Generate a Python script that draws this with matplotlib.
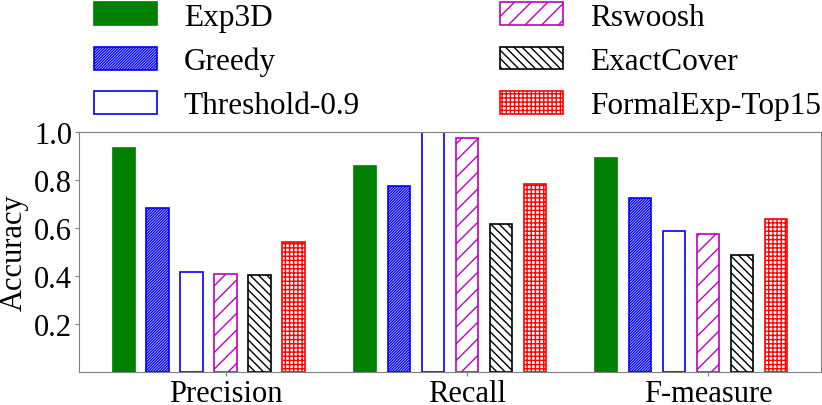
import numpy as np
import matplotlib
matplotlib.use("Agg")
import matplotlib.pyplot as plt

plt.rcParams['font.family'] = ['Liberation Serif', 'DejaVu Serif']
plt.rcParams['hatch.linewidth'] = 1.0

metrics = ['Precision', 'Recall', 'F-measure']
methods = ['Exp3D', 'Greedy', 'Threshold-0.9', 'Rswoosh', 'ExactCover', 'FormalExp-Top15']

exp3d = [0.932, 0.858, 0.894]
greedy = [0.685, 0.774, 0.726]
threshold = [0.417, 1.0, 0.588]
rswoosh = [0.410, 0.974, 0.576]
exactcover = [0.405, 0.618, 0.489]
formalexp = [0.543, 0.782, 0.640]

values = [exp3d, greedy, threshold, rswoosh, exactcover, formalexp]

# стили столбцов
faces = ['green', 'white', 'white', 'white', 'white', 'white']
edges = ['green', 'blue', 'blue', 'm', 'black', 'red']
hatches = [None, '/' * 12, None, '//', '\\' * 4, '+' * 4]

fig = plt.figure(figsize=(8.22, 4.06), dpi=100)
ax = fig.add_axes([0.0961, 0.0813, 0.9027, 0.5907])

x = np.arange(len(metrics))
step = 0.141
width = 0.094
for i in range(len(methods)):
    ax.bar(x + (i - 3) * step, values[i], width, color=faces[i], edgecolor=edges[i],
           hatch=hatches[i], linewidth=1.2, label=methods[i])

ax.set_xlim(-0.609, 2.469)
ax.set_ylim(0, 1.0)
ax.set_xticks(x)
ax.set_xticklabels(metrics, fontsize=22)
ax.set_yticks([0.2, 0.4, 0.6, 0.8, 1.0])
ax.set_yticklabels(['0.2', '0.4', '0.6', '0.8', '1.0'], fontsize=22)
ax.set_ylabel('Accuracy', fontsize=22, labelpad=4)
ax.tick_params(length=3, color='gray', pad=2)
for s in ax.spines.values():
    s.set_color('gray')

fig.legend(loc='upper left', bbox_to_anchor=(0.095, 1.03), ncol=2, frameon=False,
           fontsize=22.5, handlelength=2.02, handleheight=0.74, handletextpad=0.86,
           columnspacing=4.48, labelspacing=0.48, borderpad=0)

fig.savefig('out.png', dpi=100)
